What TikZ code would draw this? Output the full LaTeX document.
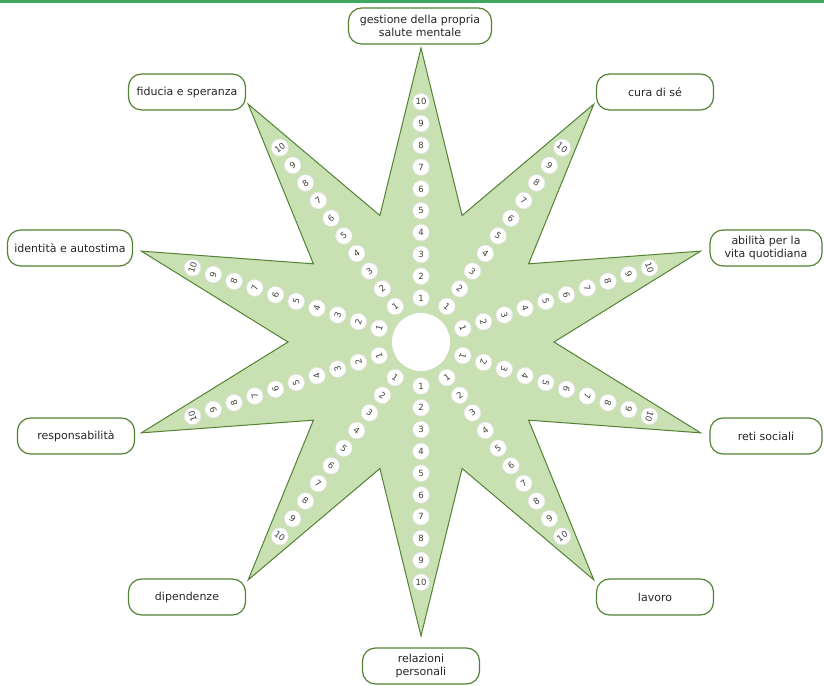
\documentclass[tikz,border=0pt]{standalone}
\usepackage{fontspec}
\usepackage{graphicx}
\setmainfont{DejaVu Sans}
\usetikzlibrary{calc}
\definecolor{stargreen}{RGB}{200,224,178}
\definecolor{darkgreen}{RGB}{84,130,53}
\definecolor{topgreen}{RGB}{62,168,96}

\begin{document}
\begin{tikzpicture}[x=1pt,y=1pt]
\tikzstyle{box}=[draw=darkgreen, line width=1.2pt, fill=white, rounded corners=13pt, align=center, minimum width=117pt, minimum height=36pt, inner sep=1pt, font=\fontsize{11}{13.5}\selectfont, text=black!85]
\tikzstyle{num}=[circle, fill=white, draw=black!10, line width=0.6pt, minimum size=16.6pt, inner sep=0pt, font=\fontsize{8.5}{9}\selectfont, text=black!75]

\useasboundingbox (0,0) rectangle (824,685);
\fill[topgreen] (0,682) rectangle (824,685);

\coordinate (O) at (421,343);

% the star and its scales
\begin{scope}[shift={(O)}]
\draw[darkgreen, line width=1pt, fill=stargreen, line join=miter]
  (90:294) \foreach \i in {0,...,9} { -- (108+36*\i:133) -- (126+36*\i:294) } -- cycle;

\node[circle, fill=white, minimum size=58pt, inner sep=0pt] (hub) at (0,0) {};

\foreach \a/\r in {90/0, 54/-36, 18/-72, -18/-108, -54/36, -90/0, -126/-36, -162/108, 162/72, 126/36}
  \foreach \k in {1,...,10}
    \node[num] (n\a-\k) at (\a:{44+(\k-1)*21.8}) {\rotatebox{\r}{\k}};
\end{scope}

% labels at the tips
\node[box, minimum width=143pt] (gestione) at (420,659) {gestione della propria\\salute mentale};
\node[box] (cura) at (655,593) {cura di sé};
\node[box] (fiducia) at (187,593) {fiducia e speranza};
\node[box, minimum width=125pt] (identita) at (70,437) {identità e autostima};
\node[box, minimum width=112pt] (abilita) at (766,437) {abilità per la\\vita quotidiana};
\node[box] (responsabilita) at (76,249) {responsabilità};
\node[box, minimum width=112pt] (reti) at (766,249) {reti sociali};
\node[box] (dipendenze) at (187,88) {dipendenze};
\node[box] (lavoro) at (655,88) {lavoro};
\node[box] (relazioni) at (421,19) {relazioni\\personali};

\end{tikzpicture}
\end{document}
